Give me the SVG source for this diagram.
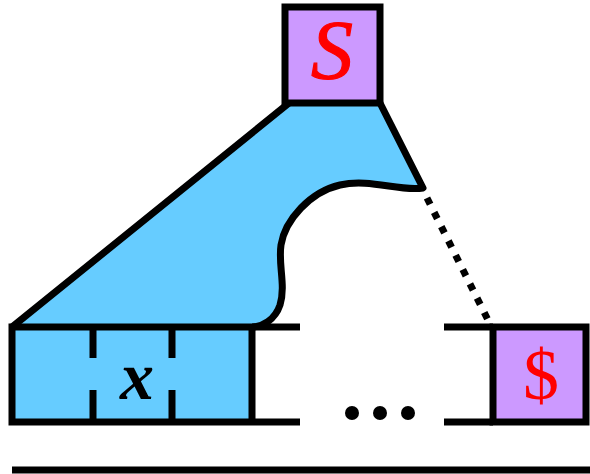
<svg xmlns="http://www.w3.org/2000/svg" width="590" height="474" viewBox="0 0 590 474">
<style>
.k{stroke:#000;stroke-width:7;fill:none}
.blue{fill:#66ccff}
.purple{fill:#cc99ff;stroke:#000;stroke-width:7}
.red{fill:#ff0000;font-family:"Liberation Serif",serif}
</style>
<rect width="590" height="474" fill="#fff"/>
<g id="triangle">
<path class="blue" d="M12,327 L289,103 L380,103 L423,188 C400,192 370,178 340,185 C310,192 285,220 281,245 C278,265 286,285 280,305 C275,320 262,327 252,327 Z"/>
<path class="k" stroke-linejoin="round" d="M12,327 L289,103 M380,103 L423,188 C400,192 370,178 340,185 C310,192 285,220 281,245 C278,265 286,285 280,305 C275,320 262,327 252,327"/>
</g>
<g id="tape">
<rect class="blue" x="12" y="327" width="240" height="95"/>
<path class="k" d="M8.5,327 H300 M8.5,422 H300 M12,327 V422 M252,327 V422 M93,327 V358 M93,390 V422 M172,327 V358 M172,390 V422 M444,327 H493 M444,422 H493 M12,470 H590"/>
<text x="137" y="399" text-anchor="middle" font-family="Liberation Serif,serif" font-style="italic" font-weight="bold" font-size="68">x</text>
<circle cx="352" cy="413" r="7"/>
<circle cx="380" cy="413" r="7"/>
<circle cx="408" cy="413" r="7"/>
</g>
<g id="S">
<rect class="purple" x="285" y="7" width="95" height="96"/>
<text class="red" x="332" y="79" text-anchor="middle" font-style="italic" font-size="84" stroke="#ff0000" stroke-width="1.2">S</text>
</g>
<g id="dollar">
<rect class="purple" x="493" y="327" width="93" height="95"/>
<text class="red" x="541" y="399" text-anchor="middle" font-size="72">$</text>
</g>
<g id="connectors">
<path class="k" stroke-dasharray="7 9" d="M427,198 L488,320"/>
</g>
</svg>
